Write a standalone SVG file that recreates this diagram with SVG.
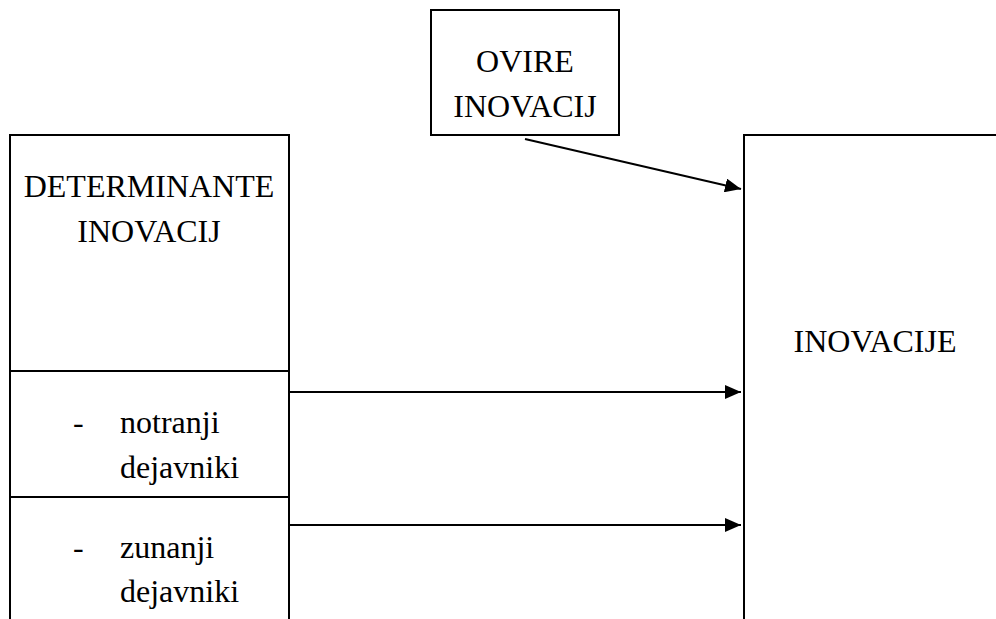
<svg xmlns="http://www.w3.org/2000/svg" width="996" height="619" viewBox="0 0 996 619">
<style>
.box{fill:none;stroke:#000;stroke-width:2}
.t{font-family:"Liberation Serif","Times New Roman",serif;font-size:32px;fill:#000}
.c{text-anchor:middle}
.conn{stroke:#000;stroke-width:2;fill:none}
</style>
<defs>
<marker id="ah" markerWidth="16" markerHeight="14" refX="16" refY="7" orient="auto" markerUnits="userSpaceOnUse">
<path d="M0,0 L16,7 L0,14 Z" fill="#000"/>
</marker>
</defs>
<rect width="996" height="619" fill="#fff"/>
<g id="ovire">
<rect class="box" x="431" y="10" width="188" height="125"/>
<text class="t c" x="525" y="72">OVIRE</text>
<text class="t c" x="525" y="117">INOVACIJ</text>
</g>
<g id="determinante">
<path class="box" d="M10,619 V135 H289 V619"/>
<text class="t c" x="149" y="197">DETERMINANTE</text>
<text class="t c" x="149" y="242">INOVACIJ</text>
</g>
<g id="notranji">
<line class="box" x1="10" y1="371" x2="289" y2="371"/>
<text class="t" x="73" y="433">-</text>
<text class="t" x="120" y="433">notranji</text>
<text class="t" x="120" y="478">dejavniki</text>
</g>
<g id="zunanji">
<line class="box" x1="10" y1="497" x2="289" y2="497"/>
<text class="t" x="73" y="558">-</text>
<text class="t" x="120" y="558">zunanji</text>
<text class="t" x="120" y="602">dejavniki</text>
</g>
<g id="inovacije">
<path class="box" d="M744,619 V135 H996"/>
<text class="t c" x="875" y="352">INOVACIJE</text>
</g>
<g id="connectors">
<line class="conn" x1="525" y1="139" x2="741" y2="189" marker-end="url(#ah)"/>
<line class="conn" x1="289" y1="392" x2="741" y2="392" marker-end="url(#ah)"/>
<line class="conn" x1="289" y1="525" x2="741" y2="525" marker-end="url(#ah)"/>
</g>
</svg>
